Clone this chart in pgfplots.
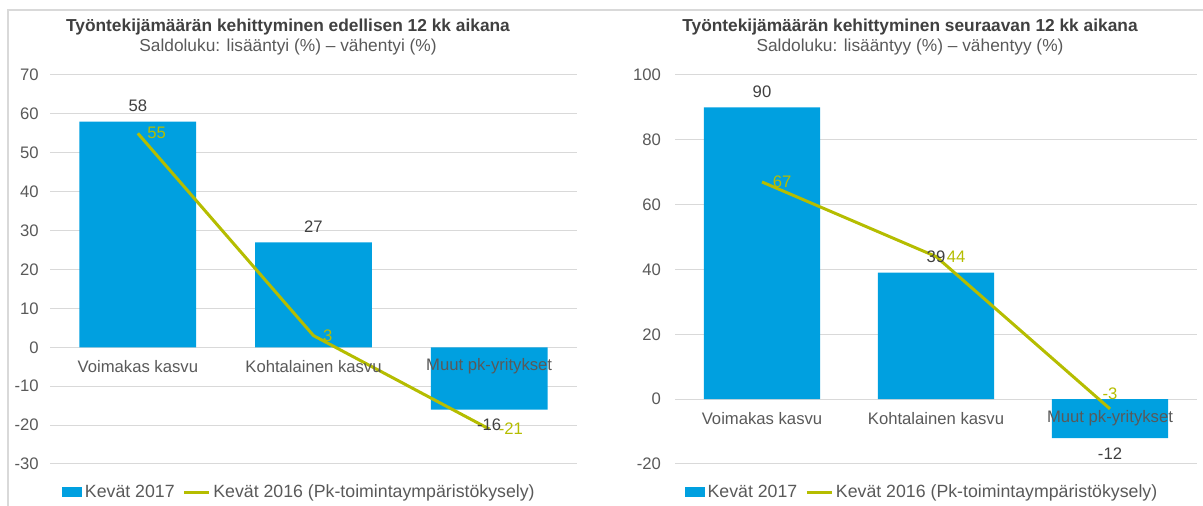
\documentclass[border=0pt]{standalone}
\usepackage{fontspec}
\setmainfont{Liberation Sans}
\usepackage{pgfplots}
\pgfplotsset{compat=1.18}
\usepackage{pgfplotstable}
\definecolor{barblue}{RGB}{0,160,224}
\definecolor{linegreen}{RGB}{181,189,0}
\definecolor{txt}{RGB}{89,89,89}
\definecolor{ttl}{RGB}{64,64,64}
\definecolor{gridc}{RGB}{217,217,217}

\pgfplotstableread{
x y
0 58
1 27
2 -16
}\barsA
\pgfplotstableread{
x y
0 55
1 3
2 -21
}\lineA
\pgfplotstableread{
x y
0 90
1 39
2 -12
}\barsB
\pgfplotstableread{
x y
0 67
1 44
2 -3
}\lineB
\pgfplotstableread{
x y
0 67
1 44
}\lineBw
\pgfplotstableread{
x y
2 -3
}\lineBs

\newcommand{\fs}{\fontsize{12.5}{15}\selectfont}
\newcommand{\ft}{\fontsize{13}{15.5}\selectfont}
\newcommand{\fl}{\fontsize{13.3}{16}\selectfont}

\pgfplotsset{
  panel/.style={
    scale only axis, anchor=south west,
    xmin=-0.5, xmax=2.5, xtick=\empty,
    ymajorgrids, grid style={gridc, line width=0.75pt},
    axis line style={draw=none}, major tick length=0,
    tick label style={font=\fs, text=txt},
    /pgf/number format/assume math mode=true,
    clip=false,
    legend style={draw=none, fill=none, legend columns=2, font=\fl, text=txt,
      at={(0.474,-0.072)}, anchor=center,
      /tikz/every even column/.append style={column sep=4pt}},
    legend cell align=left,
  },
  barplot/.style={ybar, bar width=0.665, fill=barblue, draw=none,
    nodes near coords, nodes near coords align={vertical},
    every node near coord/.append style={font=\fs, text=ttl, inner sep=7pt},
    legend image code/.code={\fill[barblue] (0pt,-3.4pt) rectangle (15pt,3.4pt);}},
  lineplot/.style={linegreen, line width=2.25pt, mark=none,
    legend image code/.code={\draw[linegreen, line width=2.25pt] (0pt,0pt) -- (18.75pt,0pt);}},
  linelabels/.style={draw=none, mark=none, forget plot, nodes near coords,
    every node near coord/.append style={anchor=#1, font=\fs, text=linegreen, inner sep=2pt}},
}

\begin{document}
\begin{tikzpicture}
\path[use as bounding box] (0pt,0pt) rectangle (902.25pt,379.5pt);
\draw[gridc, line width=1.5pt] (6pt,0pt) -- (6pt,372pt) -- (902.25pt,372pt);

\node[font=\bfseries\ft, text=ttl] at (216pt,359.25pt) {Työntekijämäärän kehittyminen edellisen 12 kk aikana};
\node[font=\ft, text=txt] at (216pt,344.25pt) {Saldoluku: lisääntyi (\%) – vähentyi (\%)};
\node[font=\bfseries\ft, text=ttl] at (682.5pt,359.25pt) {Työntekijämäärän kehittyminen seuraavan 12 kk aikana};
\node[font=\ft, text=txt] at (682.5pt,344.25pt) {Saldoluku: lisääntyy (\%) – vähentyy (\%)};

\begin{axis}[panel, at={(37.5pt,31.5pt)}, width=395.25pt, height=291.75pt,
  ymin=-30, ymax=70, ytick={-30,-20,...,70},
  yticklabel style={xshift=-5pt}]
  \addplot[barplot] table[x=x,y=y] {\barsA};
  \addlegendentry{Kevät 2017}
  \addplot[lineplot] table[x=x,y=y] {\lineA};
  \addlegendentry{Kevät 2016 (Pk-toimintaympäristökysely)}
  \addplot[linelabels=west, every node near coord/.append style={xshift=5pt}] table[x=x,y=y] {\lineA};
  \node[font=\fs, text=txt] at (axis cs:0,-4.9) {Voimakas kasvu};
  \node[font=\fs, text=txt] at (axis cs:1,-4.9) {Kohtalainen kasvu};
  \node[font=\fs, text=txt] at (axis cs:2,-4.9) {Muut pk-yritykset};
\end{axis}

\begin{axis}[panel, at={(506.25pt,31.5pt)}, width=391.5pt, height=291.75pt,
  ymin=-20, ymax=100, ytick={-20,0,...,100},
  yticklabel style={xshift=-7pt}]
  \addplot[barplot, bar width=0.667] table[x=x,y=y] {\barsB};
  \addlegendentry{Kevät 2017}
  \addplot[lineplot] table[x=x,y=y] {\lineB};
  \addlegendentry{Kevät 2016 (Pk-toimintaympäristökysely)}
  \addplot[linelabels=west, every node near coord/.append style={xshift=6pt}] table[x=x,y=y] {\lineBw};
  \addplot[linelabels=south, every node near coord/.append style={yshift=5pt}] table[x=x,y=y] {\lineBs};
  \node[font=\fs, text=txt] at (axis cs:0,-5.85) {Voimakas kasvu};
  \node[font=\fs, text=txt] at (axis cs:1,-5.85) {Kohtalainen kasvu};
  \node[font=\fs, text=txt] at (axis cs:2,-5.85) {Muut pk-yritykset};
\end{axis}
\end{tikzpicture}
\end{document}
